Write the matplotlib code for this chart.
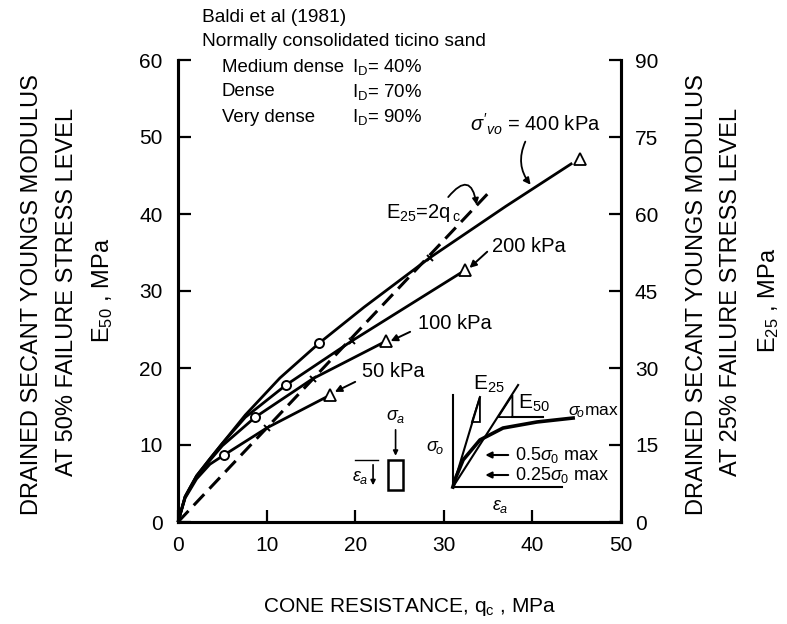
import matplotlib
matplotlib.use("Agg")
import matplotlib.pyplot as plt
from matplotlib.patches import Rectangle, Polygon

plt.rcParams['font.family'] = ['Liberation Sans', 'DejaVu Sans']
plt.rcParams['mathtext.fontset'] = 'custom'
plt.rcParams['mathtext.rm'] = 'Liberation Sans'
plt.rcParams['mathtext.it'] = 'Liberation Sans:italic'

# cone resistance qc (MPa) vs secant modulus E50 (MPa), one curve per sigma'vo
qc_50 = [0, 0.8, 2.1, 3.6, 5.2, 10.0, 17.2]
e50_50 = [0, 3.1, 5.6, 7.5, 8.7, 12.2, 16.5]
qc_100 = [0, 0.8, 2.1, 3.6, 5.0, 8.7, 15.2, 23.5]
e50_100 = [0, 3.2, 5.9, 8.0, 9.9, 13.6, 18.6, 23.5]
qc_200 = [0, 0.8, 2.1, 3.6, 5.0, 7.6, 12.2, 19.6, 32.4]
e50_200 = [0, 3.3, 6.0, 8.2, 10.2, 13.6, 17.8, 23.5, 32.7]
qc_400 = [0, 0.8, 2.1, 3.6, 5.0, 7.6, 11.5, 15.9, 21.0, 28.4, 37.0, 44.5]
e50_400 = [0, 3.3, 6.0, 8.2, 10.2, 13.9, 18.7, 23.2, 27.9, 34.3, 41.0, 46.6]

# test points by relative density
medium_qc = [5.2, 8.7, 12.2, 15.9]
medium_e50 = [8.7, 13.6, 17.8, 23.2]
dense_qc = [10.0, 15.2, 19.6, 28.4]
dense_e50 = [12.2, 18.6, 23.5, 34.3]
vdense_qc = [17.2, 23.5, 32.4, 45.4]
vdense_e50 = [16.5, 23.5, 32.7, 47.1]

# E25 = 2 qc line (E25 scale)
line_qc = [0, 35.2]
line_e25 = [0, 64.4]

# schematic stress-strain curve for the inset (axes fraction)
sketch_u = [0.396, 0.407, 0.432, 0.491, 0.572, 0.691, 0.818]
sketch_v = [0.182, 0.255, 0.380, 0.526, 0.613, 0.657, 0.686]

x_ticks = [0, 10, 20, 30, 40, 50]
left_ticks = [0, 10, 20, 30, 40, 50, 60]
right_ticks = [0, 15, 30, 45, 60, 75, 90]

fig = plt.figure(figsize=(7.87, 6.24), dpi=100)
ax = fig.add_axes([178 / 787, 102 / 624, 443 / 787, 462 / 624])
ax2 = ax.twinx()

lw = 2.0
for qc, e in [(qc_50, e50_50), (qc_100, e50_100), (qc_200, e50_200), (qc_400, e50_400)]:
    ax.plot(qc, e, color='black', lw=lw, solid_capstyle='butt', clip_on=False, zorder=3)

ax2.plot(line_qc, line_e25, color='black', lw=2.2, dashes=(5, 2.5), clip_on=False, zorder=3)

ax.plot(medium_qc, medium_e50, 'o', ms=6.5, mfc='white', mec='black', mew=1.4, zorder=5)
ax.plot(dense_qc, dense_e50, 'x', ms=5, mec='black', mew=1.4, zorder=5)
ax.plot(vdense_qc, vdense_e50, '^', ms=8.5, mfc='white', mec='black', mew=1.3, zorder=5)

ax.set_xlim(0, 50)
ax.set_ylim(0, 60)
ax2.set_ylim(0, 90)
ax.set_xticks(x_ticks)
ax.set_yticks(left_ticks)
ax2.set_yticks(right_ticks)

for a in (ax, ax2):
    a.spines['top'].set_visible(False)
    for s in a.spines.values():
        s.set_linewidth(2.2)
ax.tick_params(axis='both', direction='in', length=9, width=1.6, labelsize=15, pad=11)
ax.tick_params(axis='x', pad=10)
ax2.tick_params(axis='y', direction='in', length=9, width=1.6, labelsize=15, pad=10)

# axis titles
fs_lab = 17
fig.text(32 / 787, 1 - 295 / 624, 'DRAINED SECANT YOUNGS MODULUS', rotation=90,
         ha='center', va='center', fontsize=fs_lab)
fig.text(67 / 787, 1 - 292 / 624, 'AT 50% FAILURE STRESS LEVEL', rotation=90,
         ha='center', va='center', fontsize=fs_lab)
fig.text(103 / 787, 1 - 290 / 624, r'E$_{50}$ , MPa', rotation=90,
         ha='center', va='center', fontsize=fs_lab)
fig.text(697 / 787, 1 - 295 / 624, 'DRAINED SECANT YOUNGS MODULUS', rotation=90,
         ha='center', va='center', fontsize=fs_lab)
fig.text(731 / 787, 1 - 292 / 624, 'AT 25% FAILURE STRESS LEVEL', rotation=90,
         ha='center', va='center', fontsize=fs_lab)
fig.text(769 / 787, 1 - 300 / 624, r'E$_{25}$ , MPa', rotation=90,
         ha='center', va='center', fontsize=fs_lab)
fig.text(410 / 787, 1 - 607 / 624, r'CONE RESISTANCE, q$_{\rm c}$ , MPa',
         ha='center', va='center', fontsize=15)

# header block
fs_top = 13.8
fig.text(202 / 787, 1 - 18 / 624, 'Baldi et al (1981)', va='center', fontsize=fs_top)
fig.text(202 / 787, 1 - 41 / 624, 'Normally consolidated ticino sand', va='center', fontsize=fs_top)
for yy, name, pct in [(67, 'Medium dense', '40%'), (92, 'Dense', '70%'), (117, 'Very dense', '90%')]:
    fig.text(222 / 787, 1 - yy / 624, name, va='center', fontsize=13.4)
    fig.text(352 / 787, 1 - yy / 624, r'I$_{\rm D}$= ' + pct, va='center', fontsize=13.4)

# curve labels
fs_c = 14.5
ax.annotate(r"$\sigma'_{vo}$ = 400 kPa", xy=(39.8, 43.8), xytext=(33.0, 51.6),
            fontsize=fs_c, va='center', ha='left')
ax.annotate('', xy=(39.8, 43.8), xytext=(39.2, 49.4),
            arrowprops=dict(arrowstyle='-|>', color='black', lw=1.3,
                            connectionstyle='arc3,rad=0.3', mutation_scale=10,
                            shrinkA=0, shrinkB=0))
ax.text(35.4, 35.8, '200 kPa', fontsize=fs_c, va='center')
ax.annotate('', xy=(32.9, 33.0), xytext=(34.9, 35.1),
            arrowprops=dict(arrowstyle='-|>', color='black', lw=1.4, mutation_scale=10,
                            shrinkA=0, shrinkB=0))
ax.text(27.1, 25.8, '100 kPa', fontsize=fs_c, va='center')
ax.annotate('', xy=(24.0, 23.5), xytext=(26.2, 24.7),
            arrowprops=dict(arrowstyle='-|>', color='black', lw=1.4, mutation_scale=10,
                            shrinkA=0, shrinkB=0))
ax.text(20.8, 19.5, '50 kPa', fontsize=fs_c, va='center')
ax.annotate('', xy=(17.7, 16.9), xytext=(20.0, 18.2),
            arrowprops=dict(arrowstyle='-|>', color='black', lw=1.4, mutation_scale=10,
                            shrinkA=0, shrinkB=0))
ax.text(23.5, 40.1, r'E$_{25}$=2q$_{\,\rm c}$', fontsize=fs_c, va='center')
ax.annotate('', xy=(33.7, 41.2), xytext=(30.5, 42.2),
            arrowprops=dict(arrowstyle='-|>', color='black', lw=1.3, mutation_scale=9,
                            connectionstyle='arc3,rad=-1.1', shrinkA=0, shrinkB=0))

# inset sketch: stress-strain curve and specimen
ins = fig.add_axes([340 / 787, 1 - 512 / 624, 285 / 787, 137 / 624])
ins.set_xlim(0, 1)
ins.set_ylim(0, 1)
ins.axis('off')
ins.patch.set_alpha(0)
k = dict(color='black', lw=1.5)
ins.plot([0.396, 0.396], [0.182, 0.854], **k)
ins.plot([0.396, 0.779], [0.182, 0.182], **k)
ins.plot([0.396, 0.491], [0.182, 0.839], **k)
ins.plot([0.396, 0.625], [0.182, 0.927], **k)
ins.plot(sketch_u, sketch_v, color='black', lw=2.6)
ins.add_patch(Polygon([[0.463, 0.657], [0.491, 0.657], [0.491, 0.839]], closed=True,
                      fill=False, lw=1.3))
ins.add_patch(Polygon([[0.555, 0.693], [0.605, 0.693], [0.605, 0.854]], closed=True,
                      fill=False, lw=1.3))
ins.plot([0.605, 0.714], [0.693, 0.693], **k)
ins.text(0.465, 0.93, r'E$_{25}$', fontsize=15, va='center')
ins.text(0.625, 0.79, r'E$_{50}$', fontsize=15, va='center')
ins.text(0.80, 0.73, r'$\sigma_{\!o}$max', fontsize=12.5, va='center')
ins.text(0.30, 0.47, r'$\sigma_{\!o}$', fontsize=13, va='center')
ins.text(0.535, 0.04, r'$\epsilon_a$', fontsize=13, va='center')
ins.annotate('', xy=(0.5, 0.416), xytext=(0.6, 0.416),
             arrowprops=dict(arrowstyle='-|>', color='black', lw=1.5, mutation_scale=9))
ins.annotate('', xy=(0.5, 0.27), xytext=(0.6, 0.27),
             arrowprops=dict(arrowstyle='-|>', color='black', lw=1.5, mutation_scale=9))
ins.text(0.615, 0.416, r'0.5$\sigma_0$ max', fontsize=13, va='center')
ins.text(0.615, 0.27, r'0.25$\sigma_0$ max', fontsize=13, va='center')
ins.add_patch(Rectangle((0.168, 0.161), 0.053, 0.219, fill=False, lw=1.8))
ins.text(0.195, 0.70, r'$\sigma_a$', fontsize=13, ha='center', va='center')
ins.annotate('', xy=(0.195, 0.39), xytext=(0.195, 0.62),
             arrowprops=dict(arrowstyle='-|>', color='black', lw=1.2, mutation_scale=7))
ins.plot([0.053, 0.133], [0.38, 0.38], color='black', lw=1.0)
ins.annotate('', xy=(0.116, 0.175), xytext=(0.116, 0.365),
             arrowprops=dict(arrowstyle='-|>', color='black', lw=1.2, mutation_scale=7))
ins.text(0.07, 0.255, r'$\epsilon_a$', fontsize=13, ha='center', va='center')

fig.savefig('out.png', dpi=100)
